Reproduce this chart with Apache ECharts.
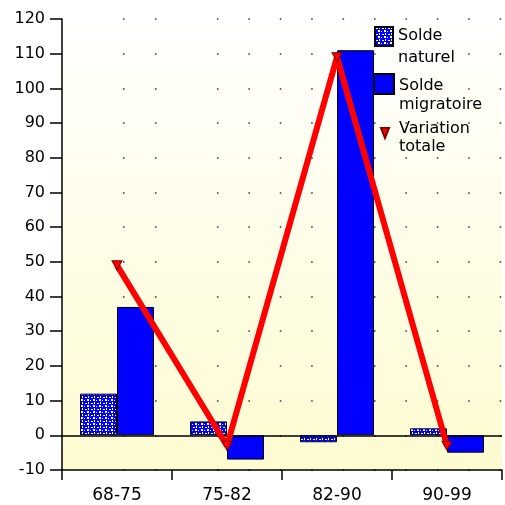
<!DOCTYPE html>
<html>
<head>
<meta charset="utf-8">
<script src="https://cdn.jsdelivr.net/npm/echarts@6/dist/echarts.min.js"></script>
<style>
  html, body { margin: 0; padding: 0; background: #fff; }
  #chart { width: 505px; height: 505px; }
</style>
</head>
<body>
<div id="chart"></div>
<script>
// data
const periods = ['68-75', '75-82', '82-90', '90-99'];
const soldeNaturel = [12, 4, -2, 2];
const soldeMigratoire = [37, -7, 111, -5];
const variationTotale = [49, -3, 109, -3];

// dotted blue/white fill for "Solde naturel"
function makePattern() {
  const c = document.createElement('canvas');
  c.width = 6; c.height = 6;
  const g = c.getContext('2d');
  g.fillStyle = '#0000ff';
  g.fillRect(0, 0, 6, 6);
  g.fillStyle = '#ffffff';
  g.fillRect(1, 1, 2, 1);
  g.fillRect(4, 0, 1, 2);
  g.fillRect(0, 4, 1, 1);
  g.fillRect(3, 3, 2, 2);
  return c;
}

const chart = echarts.init(document.getElementById('chart'));
const font = 'DejaVu Sans';
const splitName = function (name) { return name.replace(' ', '\n'); };

// one legend per entry so each can sit where the original puts it
function legendAt(name, left, top, w, h, icon, lineHeight) {
  return {
    data: [{ name: name, icon: icon }],
    orient: 'vertical',
    left: left, top: top,
    padding: 0,
    itemWidth: w, itemHeight: h,
    formatter: splitName,
    textStyle: { color: '#000', fontSize: 16, lineHeight: lineHeight, fontFamily: font }
  };
}

chart.setOption({
  animation: false,
  textStyle: { fontFamily: font },
  legend: [
    legendAt('Solde naturel', 374, 25, 18, 40, 'path://M0,0 L18,0 L18,19 L0,19 Z M18,40', 22),
    legendAt('Solde migratoire', 373, 73, 20, 43, 'path://M0,0 L20,0 L20,20 L0,20 Z M20,43', 18.6),
    legendAt('Variation totale', 373, 117, 20, 40, 'path://M0,0 M20,40 M7,10 L15,10 L11,20 Z', 18.5)
  ],
  grid: {
    left: 62, top: 19, right: 3, bottom: 35,
    show: true,
    borderWidth: 0,
    backgroundColor: {
      type: 'linear', x: 0, y: 0, x2: 0, y2: 1,
      colorStops: [
        { offset: 0, color: '#ffffff' },
        { offset: 1, color: '#fdfbd0' }
      ]
    }
  },
  xAxis: {
    type: 'category',
    data: periods,
    axisLine: { onZero: false, lineStyle: { color: '#000', width: 1.5 } },
    axisTick: { show: true, length: 10, lineStyle: { color: '#000', width: 1.5 } },
    axisLabel: { color: '#000', fontSize: 17, margin: 17, fontFamily: font },
    splitLine: { show: false }
  },
  yAxis: {
    type: 'value',
    min: -10, max: 120, interval: 10,
    axisLine: { show: true, lineStyle: { color: '#000', width: 1.5 } },
    axisTick: { show: true, inside: false, length: 12, lineStyle: { color: '#000', width: 1.5 } },
    axisLabel: { color: '#000', fontSize: 16, margin: 17, fontFamily: font },
    splitLine: {
      show: true,
      lineStyle: {
        color: '#333', width: 1.5,
        type: [1.5, 30.5, 1.5, 60.5,
          1.5, 29.9, 1.5, 29.9, 1.5, 29.9, 1.5, 29.9, 1.5, 29.9,
          1.5, 29.9, 1.5, 29.9, 1.5, 29.9, 1.5, 29.9, 1.5, 400],
        dashOffset: -61
      }
    }
  },
  series: [
    {
      name: 'Solde naturel',
      type: 'bar',
      data: soldeNaturel,
      barWidth: 37,
      barGap: '0%',
      itemStyle: {
        color: { image: makePattern(), repeat: 'repeat' },
        borderColor: '#000',
        borderWidth: 1
      },
      markLine: {
        silent: true,
        symbol: 'none',
        label: { show: false },
        lineStyle: { color: '#000', width: 1.5, type: 'solid' },
        data: [{ yAxis: 0 }]
      }
    },
    {
      name: 'Solde migratoire',
      type: 'bar',
      data: soldeMigratoire,
      barWidth: 37,
      barGap: '0%',
      itemStyle: { color: '#0000ff', borderColor: '#000', borderWidth: 1 }
    },
    {
      name: 'Variation totale',
      type: 'line',
      data: variationTotale,
      symbol: 'triangle',
      symbolRotate: 180,
      symbolSize: [10, 9],
      lineStyle: { color: '#ff0000', width: 6 },
      itemStyle: { color: '#ff0000', borderColor: '#800000', borderWidth: 1 },
      z: 5
    }
  ]
});
</script>
</body>
</html>
